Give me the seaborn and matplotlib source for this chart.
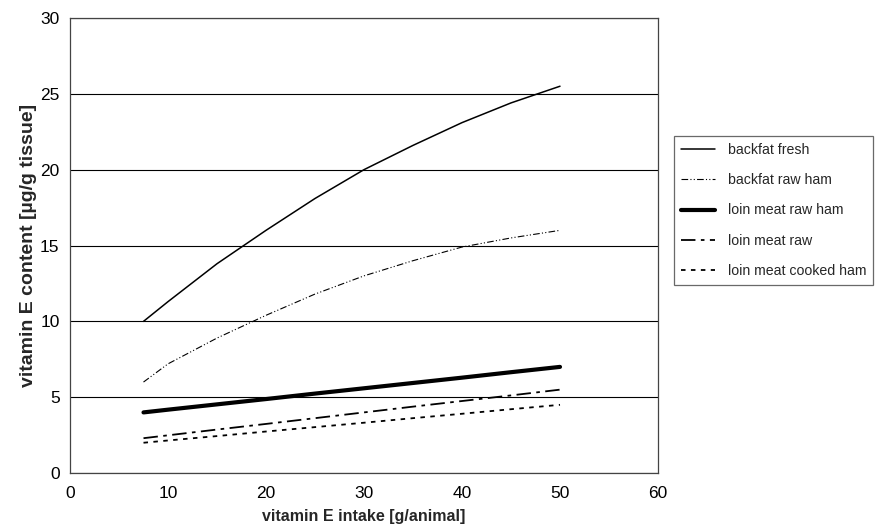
import numpy as np
import pandas as pd
import matplotlib
matplotlib.use("Agg")
import matplotlib.pyplot as plt
import seaborn as sns

# values
intake = [7.5, 10, 15, 20, 25, 30, 35, 40, 45, 50]
backfat_fresh = [10.0, 11.3, 13.8, 16.0, 18.1, 20.0, 21.6, 23.1, 24.4, 25.5]
backfat_raw_ham = [6.0, 7.2, 8.9, 10.4, 11.8, 13.0, 14.0, 14.9, 15.5, 16.0]
loin_raw_ham = [4.0, 4.18, 4.53, 4.88, 5.24, 5.59, 5.94, 6.29, 6.65, 7.0]
loin_raw = [2.3, 2.49, 2.87, 3.24, 3.62, 4.0, 4.38, 4.75, 5.12, 5.5]
loin_cooked_ham = [2.0, 2.15, 2.44, 2.74, 3.03, 3.32, 3.62, 3.91, 4.21, 4.5]

series = {
    "backfat fresh": backfat_fresh,
    "backfat raw ham": backfat_raw_ham,
    "loin meat raw ham": loin_raw_ham,
    "loin meat raw": loin_raw,
    "loin meat cooked ham": loin_cooked_ham,
}
styles = {
    "backfat fresh": dict(lw=1.1, ls="-"),
    "backfat raw ham": dict(lw=0.8, ls=(0, (6, 2, 1, 2, 1, 2))),
    "loin meat raw ham": dict(lw=3.0, ls="-"),
    "loin meat raw": dict(lw=1.3, ls=(0, (8, 3, 2, 3))),
    "loin meat cooked ham": dict(lw=1.3, ls=(0, (2.5, 3))),
}

sns.set_style("white")
plt.rcParams["font.family"] = ["Liberation Sans", "DejaVu Sans"]

fig = plt.figure(figsize=(8.75, 5.28), dpi=100)
ax = fig.add_axes([0.08, 0.104, 0.672, 0.862])

for name, vals in series.items():
    df = pd.DataFrame({"x": intake, "y": vals})
    sns.lineplot(data=df, x="x", y="y", ax=ax, color="black", label=name,
                 linewidth=styles[name]["lw"], linestyle=styles[name]["ls"])

ax.set_xlim(0, 60)
ax.set_ylim(0, 30)
ax.set_xticks(range(0, 61, 10))
ax.set_yticks(range(0, 31, 5))
ax.yaxis.grid(True, color="black", linewidth=0.8)
ax.set_axisbelow(True)
for s in ax.spines.values():
    s.set_color("#444444")
    s.set_linewidth(0.9)
ax.tick_params(axis="both", labelsize=12.5, colors="black", length=4, width=0.8)
ax.tick_params(axis="x", direction="inout", length=6, pad=6)
ax.tick_params(axis="y", direction="out")
ax.set_xlabel("vitamin E intake [g/animal]", fontsize=11.5, fontweight="bold", labelpad=6)
ax.set_ylabel("vitamin E content [µg/g tissue]", fontsize=14, fontweight="bold", labelpad=2)

leg = ax.legend(loc="center left", bbox_to_anchor=(1.027, 0.577), borderaxespad=0,
                fontsize=10.2, frameon=True, fancybox=False, edgecolor="#444444",
                handlelength=2.4, labelspacing=1.15, borderpad=0.5, handletextpad=0.9)
leg.get_frame().set_linewidth(0.9)

fig.savefig("out.png", dpi=100)
